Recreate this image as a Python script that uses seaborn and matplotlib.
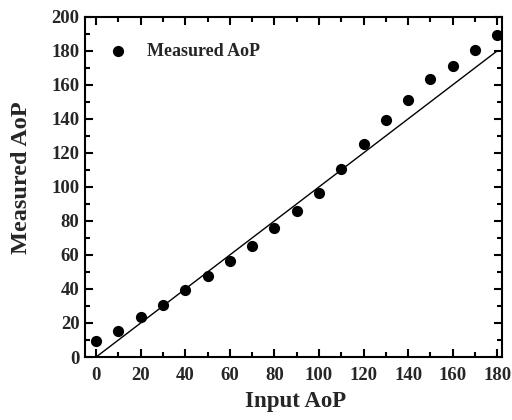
import matplotlib
matplotlib.use("Agg")
import matplotlib.pyplot as plt
import seaborn as sns
import numpy as np
import pandas as pd
from matplotlib.ticker import MultipleLocator

input_aop = [0, 10, 20, 30, 40, 50, 60, 70, 80, 90, 100, 110, 120, 130, 140, 150, 160, 170, 180]
measured_aop = [9.5, 15.5, 23.7, 30.7, 39.5, 47.7, 56.5, 65.5, 75.7, 86, 96.5, 110.6, 125.3, 139.6, 151.2, 163.2, 171.2, 180.6, 189.3]
ref_x = [0, 180]
ref_y = [0, 180]

sns.set_theme(style="ticks")
plt.rcParams['font.family'] = ['Liberation Serif', 'DejaVu Serif']
plt.rcParams['font.weight'] = 'bold'

df = pd.DataFrame({"Input AoP": input_aop, "Measured AoP": measured_aop})
ref = pd.DataFrame({"x": ref_x, "y": ref_y})

fig = plt.figure(figsize=(5.12, 4.2), dpi=100)
ax = fig.add_axes([0.166, 0.15, 0.814, 0.81])

sns.lineplot(data=ref, x="x", y="y", ax=ax, color="black", linewidth=1.0, legend=False)
sns.scatterplot(data=df, x="Input AoP", y="Measured AoP", ax=ax, color="black",
                s=65, edgecolor="black", linewidth=0, label="Measured AoP", zorder=3)

ax.set_xlim(-5, 182)
ax.set_ylim(0, 200)
ax.xaxis.set_major_locator(MultipleLocator(20))
ax.xaxis.set_minor_locator(MultipleLocator(10))
ax.yaxis.set_major_locator(MultipleLocator(20))
ax.yaxis.set_minor_locator(MultipleLocator(10))
ax.tick_params(which="both", direction="in", top=True, right=True, width=1.5, color="black")
ax.tick_params(which="major", length=6, labelsize=13.5)
ax.tick_params(which="minor", length=3.5)
ax.tick_params(axis="x", which="major", pad=7)
ax.tick_params(axis="y", which="major", pad=4)
for lbl in ax.get_xticklabels() + ax.get_yticklabels():
    lbl.set_fontweight("bold")
for sp in ax.spines.values():
    sp.set_linewidth(1.5)
    sp.set_color("black")

ax.set_xlabel("Input AoP", fontsize=16.5, fontweight="bold")
ax.set_ylabel("Measured AoP", fontsize=17.5, fontweight="bold")
ax.xaxis.set_label_coords(0.506, -0.1)
ax.yaxis.set_label_coords(-0.128, 0.528)

leg = ax.legend(loc="upper left", bbox_to_anchor=(0.019, 0.944), frameon=False,
                prop={"weight": "bold", "size": 13},
                handlelength=2.0, handletextpad=0.6, borderaxespad=0.0)

fig.savefig("out.png", dpi=100)
